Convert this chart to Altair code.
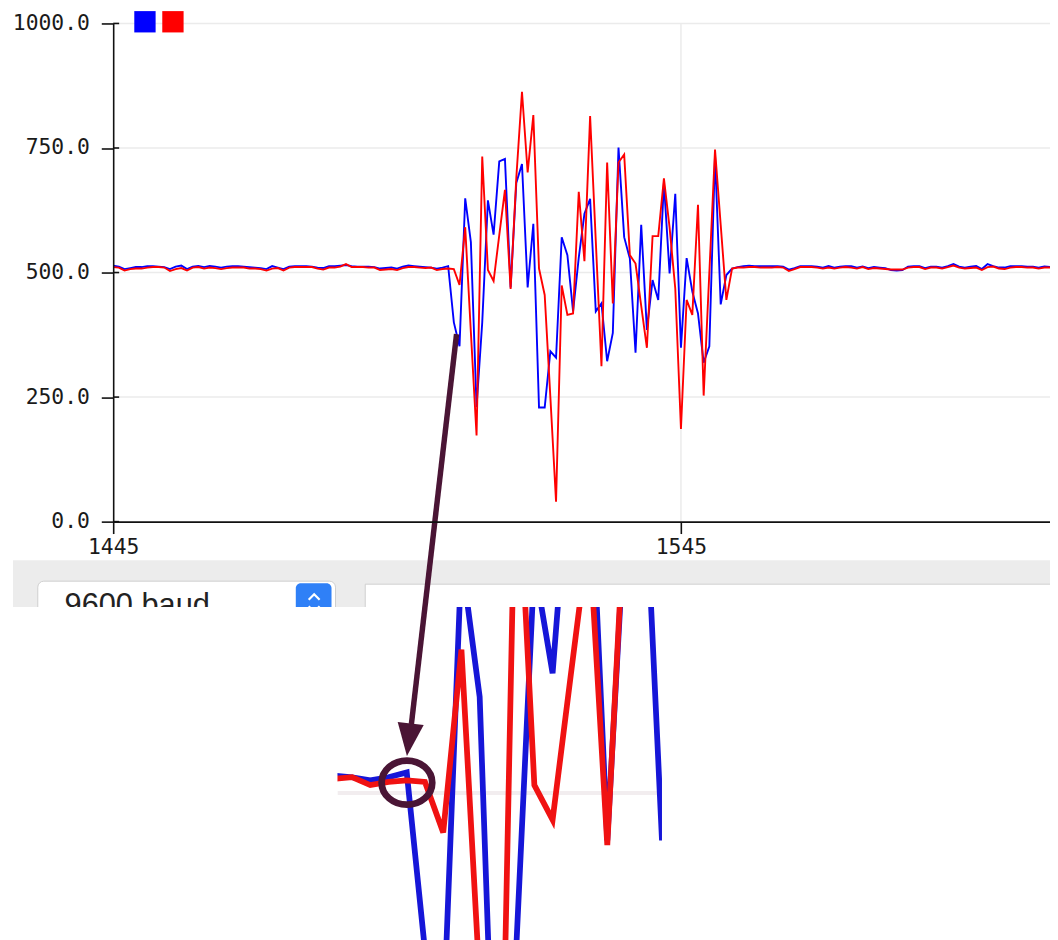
import altair as alt
import pandas as pd

# ---------------- data ----------------
X_START = 1445
X_END = 1610

BLUE_BEFORE = [514, 512, 507, 509, 511, 511, 513, 513, 512, 511,
               507, 512, 514, 507, 512, 513, 511, 513, 512, 510,
               512, 513, 513, 512, 511, 510, 509, 507, 513, 510,
               507, 512, 513, 513, 513, 512, 510, 509, 513, 513,
               514, 515, 513, 512, 512, 512, 511, 508, 509, 510,
               508, 512, 514, 513, 512, 511, 510]
BLUE_BURST = [508, 510, 513, 400, 352, 649, 561, 230, 400, 645,
              576, 723, 728, 470, 680, 718, 470, 598, 229, 229,
              342, 329, 571, 535, 422, 530, 618, 648, 422, 438,
              322, 379, 751, 571, 528, 339, 596, 385, 485, 445,
              680, 498, 658, 349, 529, 462, 418, 319, 352, 735,
              436, 495, 508]
BLUE_AFTER = [511, 513, 514, 513, 513, 513, 513, 513, 512, 506,
              509, 513, 513, 513, 512, 510, 513, 510, 512, 513,
              513, 510, 512, 509, 511, 510, 509, 505, 504, 505,
              512, 513, 513, 509, 512, 512, 510, 513, 517, 512,
              510, 512, 513, 507, 517, 513, 510, 510, 513, 513,
              513, 512, 512, 510, 512, 511]

RED_BEFORE = [511, 510, 504, 507, 508, 508, 510, 511, 511, 510,
              503, 507, 509, 504, 510, 511, 508, 510, 509, 507,
              509, 510, 510, 510, 508, 508, 507, 504, 508, 509,
              504, 510, 511, 511, 511, 511, 508, 506, 510, 510,
              512, 517, 511, 511, 511, 510, 510, 505, 506, 507,
              505, 509, 511, 511, 510, 509, 510]
RED_BURST = [505, 507, 508, 507, 475, 591, 380, 173, 733, 505,
             483, 575, 666, 467, 690, 863, 701, 816, 508, 455,
             250, 40, 474, 415, 418, 662, 523, 814, 563, 312,
             721, 438, 721, 737, 535, 518, 433, 349, 573, 573,
             689, 590, 468, 186, 445, 415, 636, 253, 500, 747,
             596, 445, 508]
RED_AFTER = [510, 510, 511, 511, 510, 510, 510, 511, 510, 503,
             507, 511, 511, 511, 510, 508, 510, 508, 510, 511,
             510, 508, 511, 507, 509, 508, 507, 506, 506, 506,
             510, 511, 511, 507, 510, 510, 508, 511, 514, 510,
             508, 509, 510, 505, 511, 512, 508, 507, 510, 511,
             511, 510, 510, 508, 510, 510]

SERIES = ["A", "B"]
SERIES_COLORS = ["#0000ff", "#ff0000"]
Y_TICKS = [0, 250, 500, 750, 1000]
X_TICKS = [1445, 1545]
GRID_Y = [250, 500, 750, 1000]
GRID_X = [1545]
INSET_GRID = [500]
INSET_X = [1500.2, 1518.0]      # data window shown magnified
INSET_Y = [409, 618]
BAUD_TEXT = "9600 baud"

BLUE = BLUE_BEFORE + BLUE_BURST + BLUE_AFTER
RED = RED_BEFORE + RED_BURST + RED_AFTER
n = len(BLUE)
xs = list(range(X_START, X_START + n))
df = pd.DataFrame({"x": xs + xs, "v": BLUE + RED, "s": ["A"] * n + ["B"] * n})

# ---------------- layout / styles ----------------
MONO = "DejaVu Sans Mono"
AXIS_C = "#111111"
GRID_C = "#ebebeb"
MAROON = "#4a1535"
W, H = 944, 502
Y_MAX = 1000
# pixel box of the magnified inset (relative to the plot origin)
IX0, IX1, IY0, IY1 = 226, 553, 588, 920

KX = W / (X_END - X_START)
KY = H / Y_MAX
SX = (IX1 - IX0) / (INSET_X[1] - INSET_X[0])
SY = (IY1 - IY0) / (INSET_Y[1] - INSET_Y[0])

# inset: same data, magnified, expressed in the main scales
XI_EXPR = f"{X_START} + ({IX0} + (datum.x - {INSET_X[0]}) * {SX}) / {KX}"
YI_EXPR_V = f"({H} - ({IY1} - (datum.v - {INSET_Y[0]}) * {SY})) / {KY}"
YI_EXPR_G = f"({H} - ({IY1} - (datum.g - {INSET_Y[0]}) * {SY})) / {KY}"

XS = alt.Scale(domain=[X_START, X_END], nice=False, zero=False)
YS = alt.Scale(domain=[0, Y_MAX], nice=False, zero=False)

X_AXIS = alt.Axis(orient="bottom", values=X_TICKS, format="d", grid=False, title=None,
                  domainColor=AXIS_C, domainWidth=1.6, tickColor=AXIS_C, tickWidth=1.6,
                  tickSize=12, labelFont=MONO, labelFontSize=21.5, labelColor="#1a1a1a",
                  labelPadding=3, labelFlush=False, labelAngle=0, zindex=1)
Y_AXIS = alt.Axis(orient="left", values=Y_TICKS, format=".1f", grid=False, title=None,
                  domainColor=AXIS_C, domainWidth=1.6, tickColor=AXIS_C, tickWidth=1.6,
                  tickSize=12, labelFont=MONO, labelFontSize=21.5, labelColor="#1a1a1a",
                  labelPadding=12, zindex=1)

DUMMY = alt.Data(values=[{"k": 0}])


def pixel_rect(x1, x2, y1, y2, **props):
    return alt.Chart(DUMMY).mark_rect(opacity=1, **props).encode(
        x=alt.value(x1), x2=alt.value(x2), y=alt.value(y1), y2=alt.value(y2))


def pixel_rule(x1, y1, x2, y2, **props):
    return alt.Chart(DUMMY).mark_rule(opacity=1, **props).encode(
        x=alt.value(x1), y=alt.value(y1), x2=alt.value(x2), y2=alt.value(y2))


def pixel_point(x, y, **props):
    return alt.Chart(DUMMY).mark_point(opacity=1, **props).encode(
        x=alt.value(x), y=alt.value(y))


# ---------------- inset (magnified view of the same data) ----------------
inset_grid = alt.Chart(pd.DataFrame({"g": INSET_GRID})).transform_calculate(
    yi=YI_EXPR_G).mark_rule(color="#f2edef", strokeWidth=4).encode(
    y=alt.Y("yi:Q", scale=YS, axis=Y_AXIS), x=alt.value(IX0), x2=alt.value(IX1))

inset_filter = "datum.x >= 1499 && datum.x <= 1519"


def inset_line(series, color):
    return alt.Chart(df).transform_filter(f"datum.s == '{series}'").transform_filter(
        inset_filter).transform_calculate(xi=XI_EXPR, yi=YI_EXPR_V).mark_line(
        color=color, strokeWidth=5.8).encode(
        x=alt.X("xi:Q", scale=XS, axis=X_AXIS), y=alt.Y("yi:Q", scale=YS, axis=Y_AXIS))


inset_blue = inset_line("A", "#1616d8")
inset_red = inset_line("B", "#f01212")

# white cover hiding the inset overflow above it
cover = pixel_rect(180, 590, -20, IY0, color="white")

# ---------------- main plot ----------------
grid_h = alt.Chart(pd.DataFrame({"g": GRID_Y})).mark_rule(color=GRID_C, strokeWidth=1.5).encode(
    y=alt.Y("g:Q", scale=YS, axis=Y_AXIS), x=alt.value(0), x2=alt.value(W))
grid_v = alt.Chart(pd.DataFrame({"g": GRID_X})).mark_rule(color=GRID_C, strokeWidth=1.5).encode(
    x=alt.X("g:Q", scale=XS, axis=X_AXIS), y=alt.value(0), y2=alt.value(H))

COLOR_SCALE = alt.Scale(domain=SERIES, range=SERIES_COLORS)

lines = alt.Chart(df).mark_line(strokeWidth=1.9).encode(
    x=alt.X("x:Q", scale=XS, axis=X_AXIS),
    y=alt.Y("v:Q", scale=YS, axis=Y_AXIS),
    color=alt.Color("s:N", scale=COLOR_SCALE, legend=None),
    detail="s:N",
)

tick_in = alt.Chart(pd.DataFrame({"t": Y_TICKS})).mark_rule(color=AXIS_C, strokeWidth=1.6).encode(
    y=alt.Y("t:Q", scale=YS, axis=Y_AXIS), x=alt.value(0), x2=alt.value(6))

# legend swatches (series key) in the top-left corner
key_blue = pixel_point(32, -1.7, shape="square", size=462, filled=True,
                       color=SERIES_COLORS[0], strokeWidth=0)
key_red = pixel_point(60.2, -1.7, shape="square", size=462, filled=True,
                      color=SERIES_COLORS[1], strokeWidth=0)

# ---------------- window chrome below the plot ----------------
gray = pixel_rect(-101, W, 541, IY0, color="#ececec")
box1 = pixel_rect(-76, 224, 562, 614, fill="white", stroke="#cfcfcf", strokeWidth=1, cornerRadius=6)
icon = pixel_rect(184, 220, 564, 606, color="#2f80f7", cornerRadius=5)
chev_up = pixel_point(202.5, 578, shape="M-1,0.5L0,-0.5L1,0.5", size=121, filled=False,
                      color="white", strokeWidth=2.2)
chev_dn = pixel_point(202.5, 590, shape="M-1,-0.5L0,0.5L1,-0.5", size=121, filled=False,
                      color="white", strokeWidth=2.2)
baud = alt.Chart(DUMMY).mark_text(text=BAUD_TEXT, font="Liberation Sans", fontSize=31,
                                  color="#222222", align="left", baseline="alphabetic").encode(
    x=alt.value(-49), y=alt.value(596))
box2 = pixel_rect(254, W, 565, IY0, color="white")
box2_top = pixel_rule(254, 565, W, 565, color="#d0d0d0", strokeWidth=1)
box2_left = pixel_rule(254, 565, 254, IY0, color="#d0d0d0", strokeWidth=1)

# masks that crop the inset at its sides
mask_l = pixel_rect(-106, IX0, IY0, IY1, color="white")
mask_r = pixel_rect(IX1, W, IY0, IY1, color="white")

# ---------------- annotation: arrow and ring ----------------
shaft = pixel_rule(346, 313, 300.5, 706, color=MAROON, strokeWidth=5.5)
head = pixel_point(297.9, 721.9, shape="M-0.8,-1L0.8,-1L0,1Z", size=1089, angle=6.6,
                   filled=True, color=MAROON, strokeWidth=0)
ring = pixel_point(296, 765, shape="M-1,0A1,0.87,0,1,0,1,0A1,0.87,0,1,0,-1,0Z", size=2600,
                   filled=False, color=MAROON, strokeWidth=6.8)

chart = alt.layer(
    inset_grid, inset_blue, inset_red, cover,
    grid_h, grid_v, lines, tick_in, key_blue, key_red,
    gray, box1, icon, chev_up, chev_dn, baud, box2, box2_top, box2_left,
    mask_l, mask_r, shaft, head, ring,
).properties(
    width=W, height=H,
    padding={"left": 106, "top": 12, "right": 0, "bottom": 418},
    autosize=alt.AutoSizeParams(type="none"),
    background="white",
).configure_view(stroke=None)

chart.save("out.html", embed_options={"renderer": "svg", "actions": False})
